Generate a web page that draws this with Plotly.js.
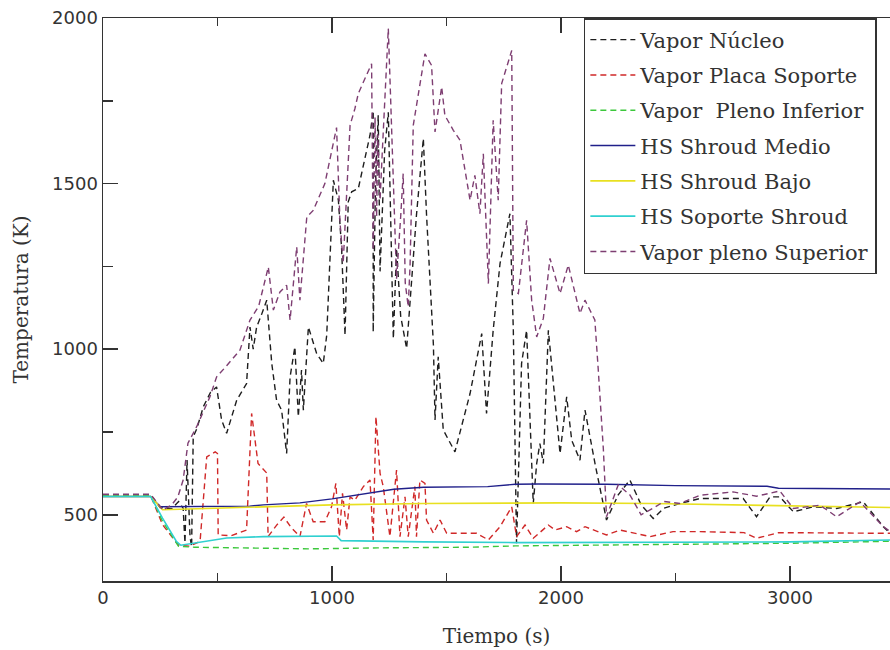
<!DOCTYPE html>
<html>
<head>
<meta charset="utf-8">
<script src="https://cdn.plot.ly/plotly-3.0.1.min.js"></script>
<style>html,body{margin:0;padding:0;background:#fff;}#chart{width:890px;height:650px;}</style>
</head>
<body>
<div id="chart"></div>
<script>
// ---- Data (time in s, temperature in K) ----
const seriesNames = ["Vapor Núcleo", "Vapor Placa Soporte", "Vapor\u00a0 Pleno Inferior",
  "HS Shroud Medio", "HS Shroud Bajo", "HS Soporte Shroud", "Vapor pleno Superior"];

const tNucleo = [0,100,208,249,300,330,350,358,367,380,387,394,410,438,470,496,518,540,584,627,642,656,671,690,715,737,758,780,802,817,838,853,867,875,897,933,962,977,1006,1028,1042,1057,1071,1086,1115,1166,1180,1180,1190,1202,1210,1230,1246,1268,1282,1300,1326,1369,1399,1413,1443,1450,1464,1486,1537,1603,1654,1675,1704,1734,1777,1792,1806,1828,1850,1879,1894,1908,1923,1945,1996,2025,2047,2083,2105,2150,2199,2250,2301,2350,2403,2450,2520,2607,2700,2796,2854,2913,2956,3015,3102,3204,3320,3408,3437];
const yNucleo = [560,560,560,522,518,540,520,415,665,434,403,735,760,826,870,886,786,746,846,896,1067,1000,1067,1100,1148,957,846,816,685,916,1007,796,937,816,1067,987,957,1042,1510,1450,1304,1042,1445,1475,1485,1646,1720,1052,1500,1706,1235,1600,1715,1032,1304,1100,1002,1405,1636,1405,1012,786,977,756,690,866,1047,806,1057,1259,1409,1057,414,957,1057,534,655,715,655,1057,685,856,725,665,816,650,484,560,605,530,489,520,534,549,549,549,494,554,554,509,524,519,539,464,444];

const tPlaca = [0,208,260,330,380,424,453,490,500,503,560,627,649,677,715,721,760,790,820,860,889,918,969,998,1017,1032,1046,1064,1079,1100,1137,1166,1180,1192,1210,1224,1253,1282,1297,1319,1333,1362,1369,1384,1406,1413,1443,1472,1501,1544,1632,1683,1734,1785,1806,1843,1879,1945,1974,2025,2068,2105,2199,2258,2389,2489,2607,2800,2854,2950,3100,3300,3437];
const yPlaca = [558,558,470,408,405,420,675,690,685,439,437,454,806,655,626,434,470,493,463,434,534,479,479,524,595,434,565,454,554,544,585,605,424,796,625,585,434,635,434,554,434,585,434,605,595,484,444,484,444,444,444,424,464,524,434,469,429,469,454,464,449,464,439,454,434,449,449,446,429,446,446,444,444];

const tInferior = [0,208,260,330,400,700,900,1200,1600,1800,2200,2600,3000,3437];
const yInferior = [558,558,480,405,402,400,397,400,402,406,408,410,414,420];

const tMedio = [0,208,250,640,700,860,1000,1100,1200,1270,1400,1680,1800,1900,2200,2500,2900,2950,3437];
const yMedio = [555,555,524,526,530,536,548,558,568,577,583,585,592,593,592,588,586,580,578];

const tBajo = [0,208,260,400,700,1000,1400,2000,2400,3000,3437];
const yBajo = [555,555,515,518,525,530,534,536,534,526,522];

const tSoporte = [0,208,260,320,340,380,420,540,700,1020,1040,1200,1400,1800,2400,3000,3437];
const ySoporte = [555,555,490,420,408,412,418,430,434,436,422,420,418,416,417,418,424];

const tSuperior = [0,208,262,300,327,350,371,409,467,496,540,598,642,680,722,744,773,802,817,846,860,890,918,969,1020,1035,1049,1079,1100,1115,1173,1180,1188,1195,1200,1210,1220,1246,1260,1282,1300,1311,1320,1333,1341,1355,1406,1435,1450,1479,1493,1530,1559,1603,1624,1646,1661,1683,1704,1726,1741,1785,1792,1814,1850,1872,1894,1923,1952,1996,2032,2083,2105,2148,2163,2185,2199,2250,2301,2350,2403,2450,2520,2607,2752,2854,2956,3015,3131,3204,3306,3408,3437];
const ySuperior = [562,562,514,530,554,605,716,766,856,916,950,997,1088,1130,1248,1118,1173,1193,1088,1309,1148,1399,1419,1500,1669,1384,1260,1676,1726,1772,1862,1300,1700,1400,1650,1450,1600,1968,1676,1213,1400,1530,1200,1128,1253,1676,1892,1857,1656,1792,1706,1661,1631,1450,1525,1409,1590,1198,1691,1450,1802,1902,1178,1168,1389,1148,1037,1093,1274,1168,1254,1108,1148,1088,937,700,494,590,560,500,520,540,534,559,569,556,572,519,529,494,539,464,450];

const xTickVals = [0, 1000, 2000, 3000];
const yTickVals = [500, 1000, 1500, 2000];

// ---- Traces ----
const dashStyle = "6px,4px";
function mk(name, x, y, color, dashed, group, width) {
  return {
    type: "scatter", mode: "lines", name: name, x: x, y: y,
    legendgroup: group,
    line: {color: color, width: width || 1.4, dash: dashed ? dashStyle : "solid"}
  };
}
const traces = [
  mk(seriesNames[0], tNucleo, yNucleo, "#1e1e1e", true, "g1"),
  mk(seriesNames[1], tPlaca, yPlaca, "#d02828", true, "g2"),
  mk(seriesNames[2], tInferior, yInferior, "#3cc83c", true, "g3"),
  mk(seriesNames[3], tMedio, yMedio, "#20208a", false, "g4"),
  mk(seriesNames[4], tBajo, yBajo, "#e8e020", false, "g5", 1.6),
  mk(seriesNames[5], tSoporte, ySoporte, "#30d0d0", false, "g6", 1.6),
  mk(seriesNames[6], tSuperior, ySuperior, "#7e3e72", true, "g7")
];

const tickFont = {family: "DejaVu Sans", size: 18, color: "#333"};
const titleFont = {family: "DejaVu Serif", size: 20, color: "#333"};

const layout = {
  width: 890, height: 650,
  margin: {l: 103, r: 0, t: 18, b: 69},
  paper_bgcolor: "#fff", plot_bgcolor: "#fff",
  showlegend: true,
  legend: {
    x: 0.611, y: 1, xanchor: "left", yanchor: "top",
    bgcolor: "#fff", bordercolor: "#333", borderwidth: 1.5,
    font: {family: "DejaVu Serif", size: 21, color: "#333"},
    tracegroupgap: 5, itemwidth: 45, traceorder: "grouped"
  },
  xaxis: {
    range: [0, 3437], tickvals: xTickVals, ticks: "inside", ticklen: 15, tickwidth: 1.5,
    tickcolor: "#333", showline: true, linecolor: "#333", linewidth: 1.5, mirror: "ticks",
    showgrid: false, zeroline: false, tickfont: tickFont,
    minor: {dtick: 500, ticks: "inside", ticklen: 8, tickwidth: 1.5, tickcolor: "#333", showgrid: false},
    title: {text: "Tiempo (s)", font: titleFont, standoff: 22}
  },
  yaxis: {
    range: [300, 2000], tickvals: yTickVals, ticks: "inside", ticklen: 15, tickwidth: 1.5,
    tickcolor: "#333", showline: true, linecolor: "#333", linewidth: 1.5, mirror: false,
    showgrid: false, zeroline: false, tickfont: tickFont,
    minor: {tickvals: [750, 1250, 1750], ticks: "inside", ticklen: 10, tickwidth: 1.5, tickcolor: "#333", showgrid: false},
    title: {text: "Temperatura (K)", font: titleFont, standoff: 18}
  }
};

Plotly.newPlot("chart", traces, layout, {displayModeBar: false, staticPlot: true});
</script>
</body>
</html>
